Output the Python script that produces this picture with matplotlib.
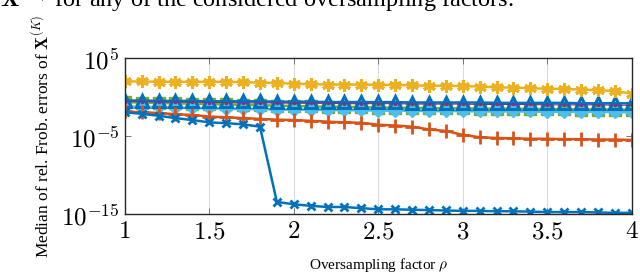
import matplotlib
matplotlib.use("Agg")
import matplotlib.pyplot as plt
import numpy as np
from matplotlib.ticker import FixedLocator, FuncFormatter

plt.rcParams['font.family'] = ['Liberation Serif', 'DejaVu Serif']
plt.rcParams['mathtext.fontset'] = 'cm'

# oversampling factors 1.0, 1.1, ..., 4.0
rho = np.round(np.arange(1.0, 4.01, 0.1), 1)

# log10 of median relative Frobenius errors
log_cross = [-1.9, -2.1, -2.35, -2.65, -2.9, -3.2, -3.3, -3.45, -3.75, -13.4,
             -13.7, -13.9, -14.05, -14.05, -14.2, -14.35, -14.35, -14.4, -14.45, -14.5,
             -14.55, -14.55, -14.6, -14.6, -14.65, -14.7, -14.7, -14.7, -14.75, -14.8,
             -14.8]
log_plus = [-1.8, -1.9, -2.0, -2.15, -2.25, -2.45, -2.55, -2.65, -2.75, -2.85,
            -2.9, -3.0, -3.1, -3.2, -3.25, -3.5, -3.6, -3.75, -4.1, -4.3,
            -4.8, -5.1, -5.2, -5.25, -5.3, -5.3, -5.35, -5.35, -5.4, -5.4,
            -5.45]
log_star = [2.05, 2.05, 2.0, 2.0, 2.0, 2.0, 2.0, 1.95, 1.9, 1.85,
            1.75, 1.7, 1.65, 1.65, 1.65, 1.6, 1.6, 1.55, 1.5, 1.5,
            1.45, 1.4, 1.3, 1.25, 1.2, 1.1, 1.1, 1.0, 0.95, 0.8,
            0.5]
log_dot = [-0.55, -0.55, -0.6, -0.6, -0.6, -0.65, -0.65, -0.7, -0.7, -0.7,
           -0.75, -0.75, -0.75, -0.8, -0.8, -0.8, -0.8, -0.85, -0.85, -0.85,
           -0.85, -0.9, -0.9, -0.9, -0.9, -0.95, -0.95, -0.95, -0.95, -1.0,
           -1.0]
log_square = [-0.6, -0.65, -0.7, -0.75, -0.8, -0.85, -0.9, -0.95, -1.0, -1.05,
              -1.1, -1.15, -1.2, -1.2, -1.25, -1.3, -1.3, -1.35, -1.35, -1.4,
              -1.4, -1.45, -1.45, -1.45, -1.5, -1.5, -1.5, -1.55, -1.55, -1.55,
              -1.6]
log_diamond = [-1.15, -1.2, -1.25, -1.3, -1.35, -1.4, -1.45, -1.5, -1.5, -1.55,
               -1.55, -1.6, -1.6, -1.65, -1.65, -1.7, -1.7, -1.7, -1.75, -1.75,
               -1.75, -1.8, -1.8, -1.8, -1.8, -1.85, -1.85, -1.85, -1.85, -1.9,
               -1.9]
log_triangle = [-0.4, -0.4, -0.45, -0.45, -0.45, -0.5, -0.5, -0.5, -0.5, -0.55,
                -0.55, -0.55, -0.6, -0.6, -0.6, -0.6, -0.6, -0.65, -0.65, -0.65,
                -0.65, -0.65, -0.7, -0.7, -0.7, -0.7, -0.7, -0.75, -0.75, -0.75,
                -0.75]

blue = (0.0, 0.447, 0.741)
orange = (0.85, 0.325, 0.098)
yellow = (0.929, 0.694, 0.125)
purple = (0.494, 0.184, 0.556)
green = (0.466, 0.674, 0.188)
cyan = (0.301, 0.745, 0.933)

fig = plt.figure(figsize=(6.4, 2.77), dpi=100)
ax = fig.add_axes([0.195, 0.226, 0.792, 0.563])

def p(v):
    return 10.0 ** np.array(v)

ax.semilogy(rho, p(log_square), color=green, marker='s', ms=9, mfc=green,
            mec=green, lw=1.8)
ax.semilogy(rho, p(log_diamond), color=cyan, marker='D', ms=6, mfc=cyan,
            mec=cyan, lw=1.8)
ax.semilogy(rho, p(log_triangle), color=blue, marker='^', ms=9, mfc='none',
            mec=blue, mew=2.2, lw=1.8)
ax.semilogy(rho, p(log_dot), color=purple, marker='.', ms=3, lw=0.8)
ax.semilogy(rho, p(log_star), color=yellow, marker=(6, 2, 0), ms=9, mew=2.2,
            lw=1.8)
ax.semilogy(rho, p(log_plus), color=orange, marker='+', ms=10, mew=2, lw=1.8)
ax.semilogy(rho, p(log_cross), color=blue, marker='x', ms=6, mew=2, lw=1.8)

ax.set_xlim(1, 4)
ax.set_ylim(1e-15, 1e5)
ax.xaxis.set_major_locator(FixedLocator([1, 1.5, 2, 2.5, 3, 3.5, 4]))
ax.xaxis.set_major_formatter(FuncFormatter(lambda v, pos: f"${v:g}$"))
ax.yaxis.set_major_locator(FixedLocator([1e-15, 1e-5, 1e5]))
ax.yaxis.set_major_formatter(FuncFormatter(
    lambda v, pos: r"$10^{%d}$" % int(round(np.log10(v)))))
ax.yaxis.set_minor_locator(FixedLocator([]))
ax.tick_params(direction='in', top=True, right=True, labelsize=18,
               length=4, width=0.6, color='0.4')
ax.tick_params(axis='x', pad=5)
ax.tick_params(axis='y', pad=4)
ax.grid(True, axis='x', color='0.85', lw=0.7)
for s in ax.spines.values():
    s.set_linewidth(1.0)
    s.set_color('0.15')

ax.set_xlabel(r"Oversampling factor $\rho$", fontsize=11, labelpad=9)
ax.set_ylabel(r"Median of rel. Frob. errors of $\mathbf{X}^{(K)}$",
              fontsize=12.5, labelpad=6)

fig.text(0.0, 1 - 6 / 277,
         r"$\mathbf{X}^{(K)}$ for any of the considered oversampling factors.",
         fontsize=17.5, va='baseline', ha='left')

fig.savefig("out.png", dpi=100)
